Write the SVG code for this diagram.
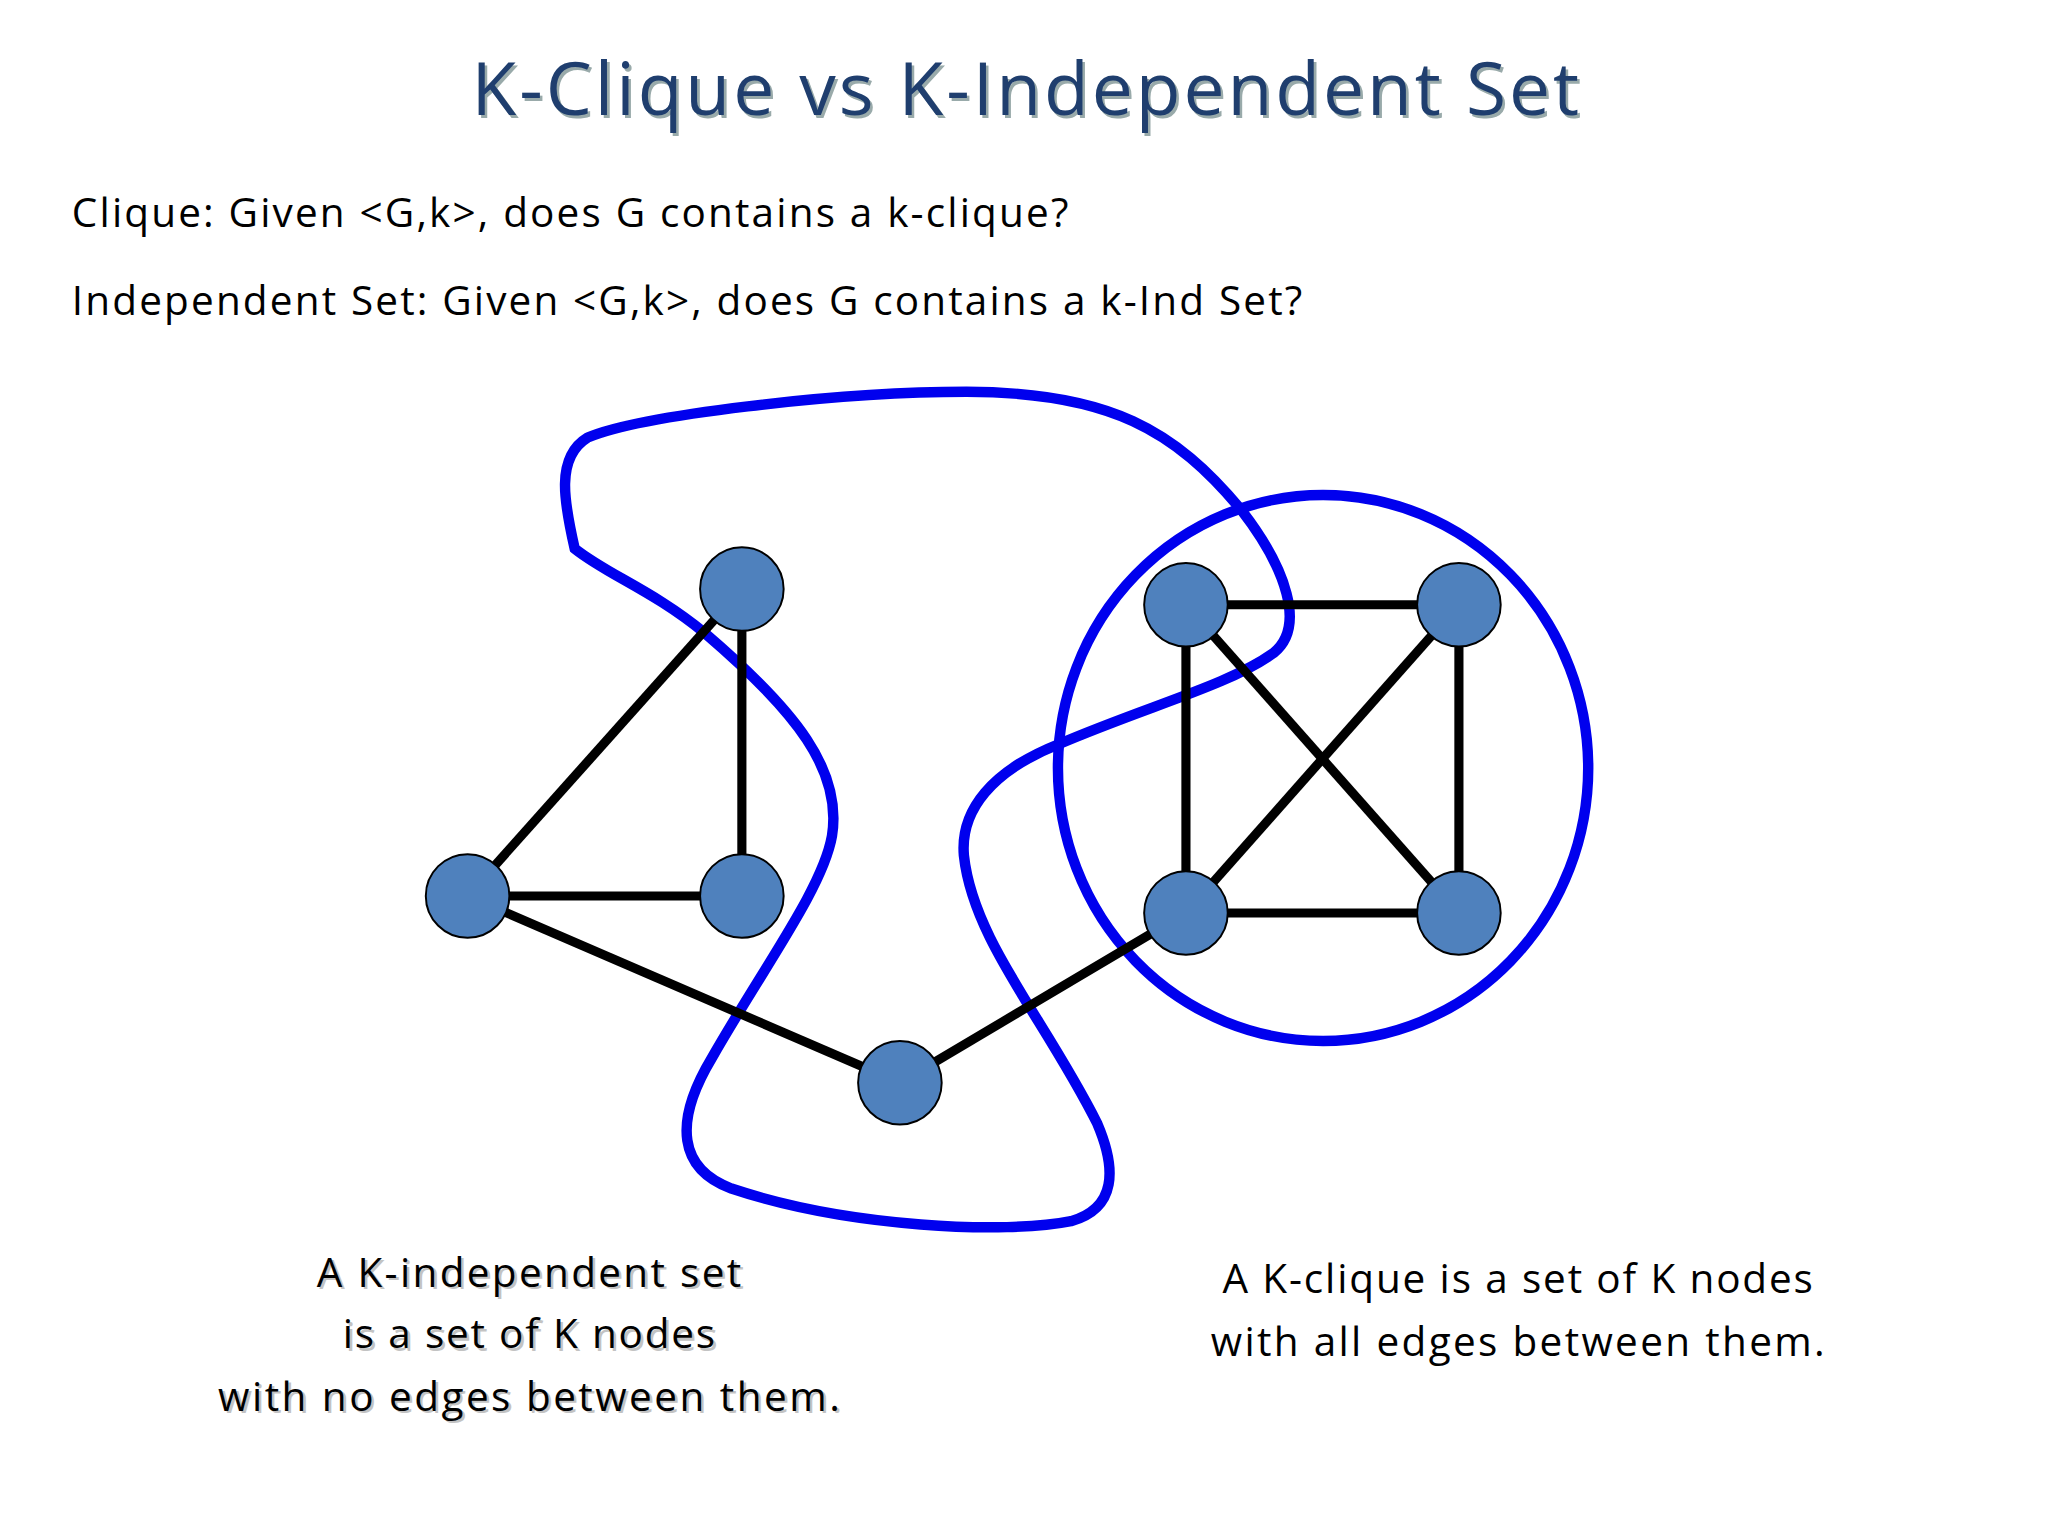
<svg xmlns="http://www.w3.org/2000/svg" width="2048" height="1536" viewBox="0 0 2048 1536">
<style>
.n{fill:#4F81BD;stroke:#000;stroke-width:1.5}
.e{stroke:#000;stroke-width:7}
.t{font-family:"Open Sans","Liberation Sans",sans-serif;fill:#000}
.b{stroke:#0000EE;stroke-width:8;fill:none}
</style>
<rect width="2048" height="1536" fill="#fff"/>
<g transform="scale(1.3061)">
<g id="title">
<text x="787" y="90" text-anchor="middle" font-size="56" class="t" fill="#aaa" style="fill:#9aa" textLength="848">K-Clique vs K-Independent Set</text>
<text x="785" y="88" text-anchor="middle" font-size="56" class="t" style="fill:#1F3E6E" textLength="848">K-Clique vs K-Independent Set</text>
</g>
<g id="q">
<text x="55" y="174" font-size="31" class="t" textLength="763">Clique: Given &lt;G,k&gt;, does G contains a k-clique?</text>
<text x="55" y="241" font-size="31" class="t" textLength="942">Independent Set: Given &lt;G,k&gt;, does G contains a k-Ind Set?</text>
</g>
<g id="blobs">
<ellipse class="b" cx="1013" cy="588" rx="203" ry="209"/>
<path class="b" d="M440,420 C432,385 425,350 450,335 C490,318 640,300 740,300 C850,300 900,330 950,390 C985,435 1000,480 975,500 C940,525 880,540 810,570 C760,590 735,620 738,655 C745,720 800,780 840,860 C855,895 855,925 820,935 C770,945 650,940 560,910 C520,895 515,860 545,810 C585,740 630,680 637,640 C645,590 610,545 540,485 C500,452 465,440 440,420 Z"/>
</g>
<g id="edges">
<line class="e" x1="568" y1="451" x2="358" y2="686"/>
<line class="e" x1="568" y1="451" x2="568" y2="686"/>
<line class="e" x1="358" y1="686" x2="568" y2="686"/>
<line class="e" x1="358" y1="686" x2="689" y2="829"/>
<line class="e" x1="689" y1="829" x2="908" y2="699"/>
<line class="e" x1="908" y1="463" x2="1117" y2="463"/>
<line class="e" x1="908" y1="463" x2="908" y2="699"/>
<line class="e" x1="908" y1="463" x2="1117" y2="699"/>
<line class="e" x1="1117" y1="463" x2="908" y2="699"/>
<line class="e" x1="1117" y1="463" x2="1117" y2="699"/>
<line class="e" x1="908" y1="699" x2="1117" y2="699"/>
</g>
<g id="nA"><circle class="n" cx="568" cy="451" r="32"/></g>
<g id="nB"><circle class="n" cx="358" cy="686" r="32"/></g>
<g id="nC"><circle class="n" cx="568" cy="686" r="32"/></g>
<g id="nD"><circle class="n" cx="689" cy="829" r="32"/></g>
<g id="nE"><circle class="n" cx="908" cy="463" r="32"/></g>
<g id="nF"><circle class="n" cx="1117" cy="463" r="32"/></g>
<g id="nG"><circle class="n" cx="908" cy="699" r="32"/></g>
<g id="nH"><circle class="n" cx="1117" cy="699" r="32"/></g>
<g id="lbl-ind" font-size="31" text-anchor="middle">
<g style="fill:#aaa" class="t" transform="translate(2,2)" opacity="0.5">
<text x="405" y="985" class="t" style="fill:#888" textLength="325">A K-independent set</text>
<text x="405" y="1032" class="t" style="fill:#888" textLength="285">is a set of K nodes</text>
<text x="405" y="1080" class="t" style="fill:#888" textLength="476">with no edges between them.</text>
</g>
<text x="405" y="985" class="t" textLength="325">A K-independent set</text>
<text x="405" y="1032" class="t" textLength="285">is a set of K nodes</text>
<text x="405" y="1080" class="t" textLength="476">with no edges between them.</text>
</g>
<g id="lbl-clique" font-size="31" text-anchor="middle">
<text x="1162" y="990" class="t" textLength="452">A K-clique is a set of K nodes</text>
<text x="1162" y="1038" class="t" textLength="470">with all edges between them.</text>
</g>
</g>
</svg>
